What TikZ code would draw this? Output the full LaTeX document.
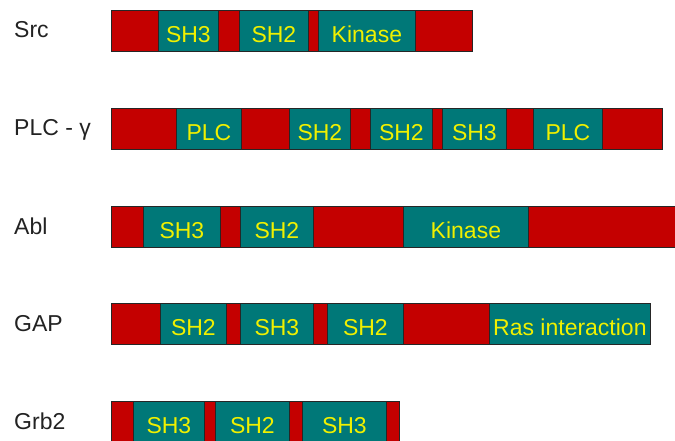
\documentclass[tikz,border=0pt]{standalone}
\usepackage{fontspec}
\setmainfont{Liberation Sans}
\usetikzlibrary{positioning}
\definecolor{linkred}{HTML}{C40000}
\definecolor{domteal}{HTML}{007878}
\definecolor{domtext}{HTML}{F0F000}
\definecolor{labink}{HTML}{222222}
\tikzset{
  seg/.style={draw=black!85, line width=0.8pt, inner sep=0pt, minimum height=41pt,
              text height=32pt, text depth=9pt, font=\fontsize{23}{27}\selectfont},
  link/.style={seg, fill=linkred},
  dom/.style={seg, fill=domteal, text=domtext},
  protname/.style={anchor=base west, inner sep=0pt, text=labink,
                   font=\fontsize{23}{27}\selectfont}
}
% one protein bar: name, top edge, list of start/end/style/label
\newcommand{\protbar}[3]{%
  \foreach \xa/\xb/\kind/\lab [count=\i] in {#3}{%
    \pgfmathsetmacro{\w}{\xb-\xa}
    \node[\kind, minimum width=\w pt, anchor=north west] (#1-\i) at (\xa,#2) {\lab};}}

\begin{document}
\begin{tikzpicture}[x=1pt, y=-1pt]
  \useasboundingbox (0,0) rectangle (675,441);
  \clip (0,0) rectangle (675,441);
  % names
  \node[protname] (src) at (14,38) {Src};
  \node[protname] (plc) at (14,136) {PLC - γ};
  \node[protname] (abl) at (14,234) {Abl};
  \node[protname] (gap) at (14,331) {GAP};
  \node[protname] (grb) at (14,429) {Grb2};
  % domains
  \protbar{src}{10}{111/158/link/{}, 158/218/dom/SH3, 218/239/link/{},
    239/308/dom/SH2, 308/318/link/{}, 318/415/dom/Kinase, 415/472/link/{}}
  \protbar{plc}{108}{111/176/link/{}, 176/241/dom/PLC, 241/289/link/{},
    289/350/dom/SH2, 350/370/link/{}, 370/432/dom/SH2, 432/442/link/{},
    442/506/dom/SH3, 506/533/link/{}, 533/602/dom/PLC, 602/662/link/{}}
  \protbar{abl}{206}{111/143/link/{}, 143/220/dom/SH3, 220/240/link/{},
    240/313/dom/SH2, 313/403/link/{}, 403/528/dom/Kinase, 528/677/link/{}}
  \protbar{gap}{303}{111/160/link/{}, 160/226/dom/SH2, 226/240/link/{},
    240/313/dom/SH3, 313/327/link/{}, 327/403/dom/SH2, 403/489/link/{},
    489/650/dom/Ras interaction}
  \protbar{grb}{401}{111/133/link/{}, 133/204/dom/SH3, 204/215/link/{},
    215/289/dom/SH2, 289/302/link/{}, 302/386/dom/SH3, 386/399/link/{}}
\end{tikzpicture}
\end{document}
